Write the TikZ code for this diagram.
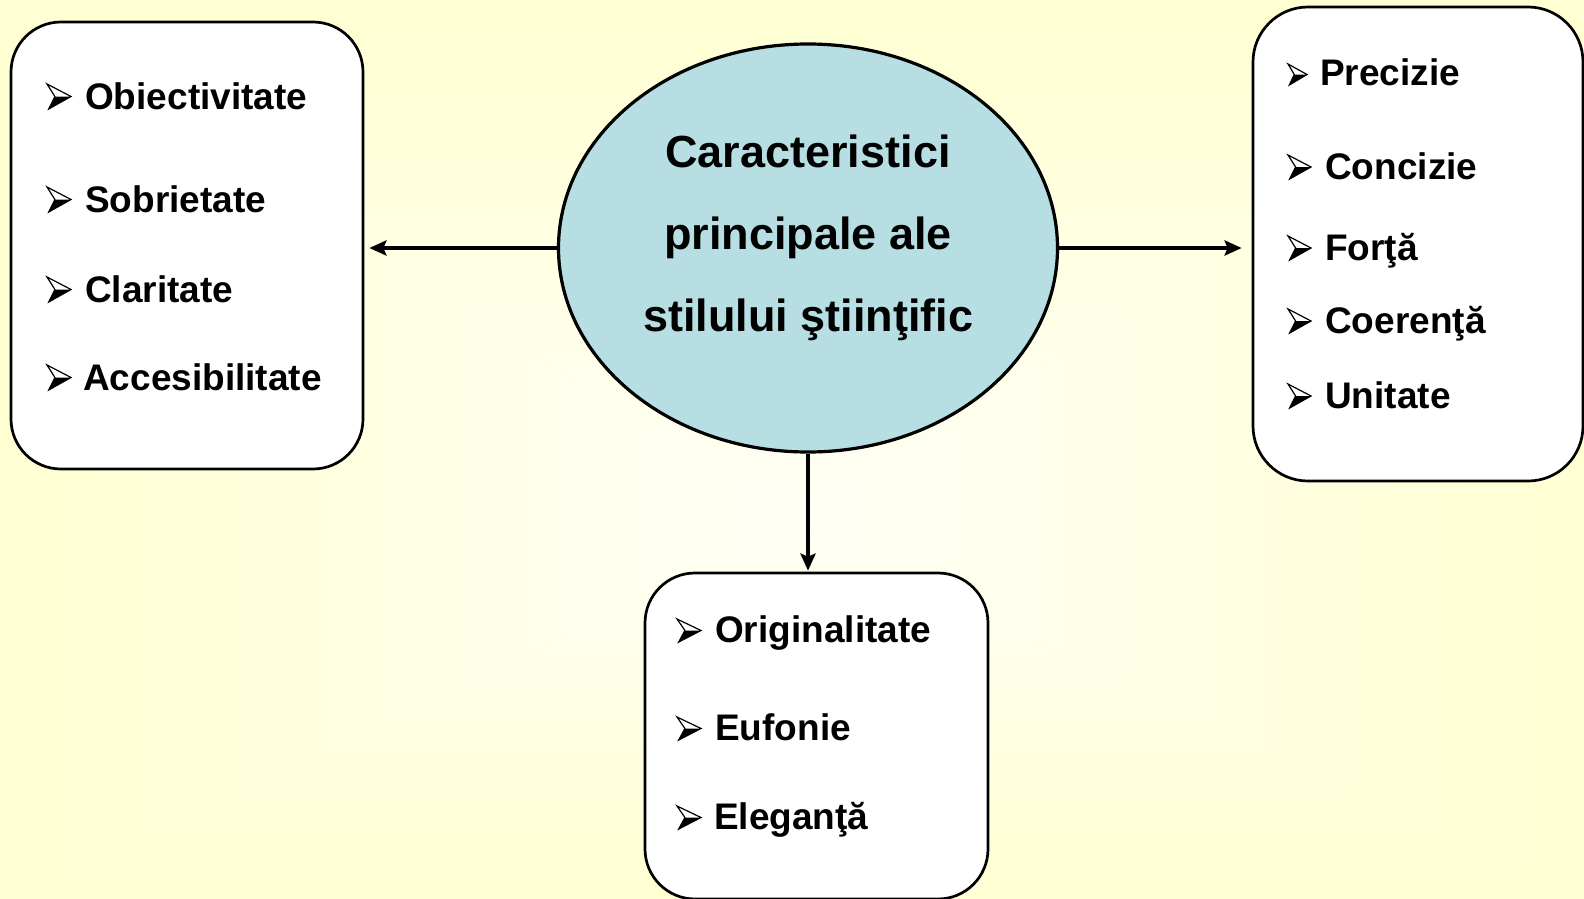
\documentclass[tikz,border=0pt]{standalone}
\usepackage{fontspec}
\setmainfont{Liberation Sans}
\usetikzlibrary{shapes.geometric,arrows.meta}
\definecolor{bgyel}{RGB}{255,255,192}
\definecolor{ellfill}{RGB}{183,223,227}
\pgfdeclareverticalshading{bgv}{100bp}{color(0bp)=(white); color(12bp)=(white); color(100bp)=(bgyel)}
\begin{document}
\begin{tikzpicture}[x=1pt,y=-1pt,
  box/.style={draw=black, line width=2.7pt, fill=white, rounded corners=50pt, inner sep=0pt},
  item/.style={anchor=base west, inner sep=0pt, font=\fontsize{37}{44}\selectfont\bfseries},
  ctext/.style={anchor=base, inner sep=0pt, font=\fontsize{45}{54}\selectfont\bfseries},
  conn/.style={line width=3.6pt, -{Stealth[length=17pt,width=15pt,inset=3pt]}},
  bul/.pic={
    \fill[white] (0,0)--(1,0.5)--(0.07,1)--(0.33,0.5)--cycle;
    \fill[black] (0.33,0.5)--(1,0.5)--(0.07,1)--cycle;
    \draw[line width=1.2pt, line join=miter] (0,0)--(1,0.5)--(0.07,1)--(0.33,0.5)--cycle;
  }
]
\useasboundingbox (0,0) rectangle (1584,899);
% background: rectangular gradient from a centre point
\coordinate (g) at (800,530);
\fill[bgyel!45!white] (0,0) rectangle (1584,899);
\shade[shading=bgv] (0,0) -- (1584,0) -- (g) -- cycle;
\shade[shading=bgv, shading angle=180] (0,899) -- (1584,899) -- (g) -- cycle;
\shade[shading=bgv, shading angle=90] (0,0) -- (0,899) -- (g) -- cycle;
\shade[shading=bgv, shading angle=-90] (1584,0) -- (1584,899) -- (g) -- cycle;

% boxes
\node[box, minimum width=352pt, minimum height=447pt] (L) at (187,245.5) {};
\node[box, minimum width=330pt, minimum height=474pt, rounded corners=55pt] (R) at (1418,244) {};
\node[box, minimum width=343pt, minimum height=326pt] (B) at (816.5,736) {};

% central ellipse
\node[ellipse, draw=black, line width=3.2pt, fill=ellfill, minimum width=499pt, minimum height=408pt, inner sep=0pt] (c) at (808,248) {};
\node[ctext] (c1) at (808,167) {Caracteristici};
\node[ctext] (c2) at (808,249) {principale ale};
\node[ctext] (c3) at (808,331) {stilului ştiinţific};

% connectors
\draw[conn, shorten >=5pt] (c.west) -- (c.west -| L.east);
\draw[conn, shorten >=10pt] (c.east) -- (c.east -| R.west);
\draw[conn, shorten >=1pt] (c.south) -- (c.south |- B.north);

% left items
\pic[xscale=24,yscale=25] at (47,84) {bul};
\node[item] (l1) at (85,109) {Obiectivitate};
\pic[xscale=24,yscale=25] at (47,187) {bul};
\node[item] (l2) at (85,212) {Sobrietate};
\pic[xscale=24,yscale=25] at (47,277) {bul};
\node[item] (l3) at (85,302) {Claritate};
\pic[xscale=24,yscale=25] at (47,365) {bul};
\node[item] (l4) at (83,390) {Accesibilitate};

% right items
\pic[xscale=19,yscale=21] at (1288,64) {bul};
\node[item] (r1) at (1320,85) {Precizie};
\pic[xscale=23,yscale=24] at (1288,155) {bul};
\node[item] (r2) at (1325,179) {Concizie};
\pic[xscale=23,yscale=24] at (1288,236) {bul};
\node[item] (r3) at (1325,260) {Forţă};
\pic[xscale=23,yscale=24] at (1288,309) {bul};
\node[item] (r4) at (1325,333) {Coerenţă};
\pic[xscale=23,yscale=24] at (1288,384) {bul};
\node[item] (r5) at (1325,408) {Unitate};

% bottom items
\pic[xscale=24,yscale=23] at (677,619) {bul};
\node[item] (b1) at (715,642) {Originalitate};
\pic[xscale=24,yscale=23] at (677,717) {bul};
\node[item] (b2) at (715,740) {Eufonie};
\pic[xscale=24,yscale=23] at (677,806) {bul};
\node[item] (b3) at (714,829) {Eleganţă};
\end{tikzpicture}
\end{document}
